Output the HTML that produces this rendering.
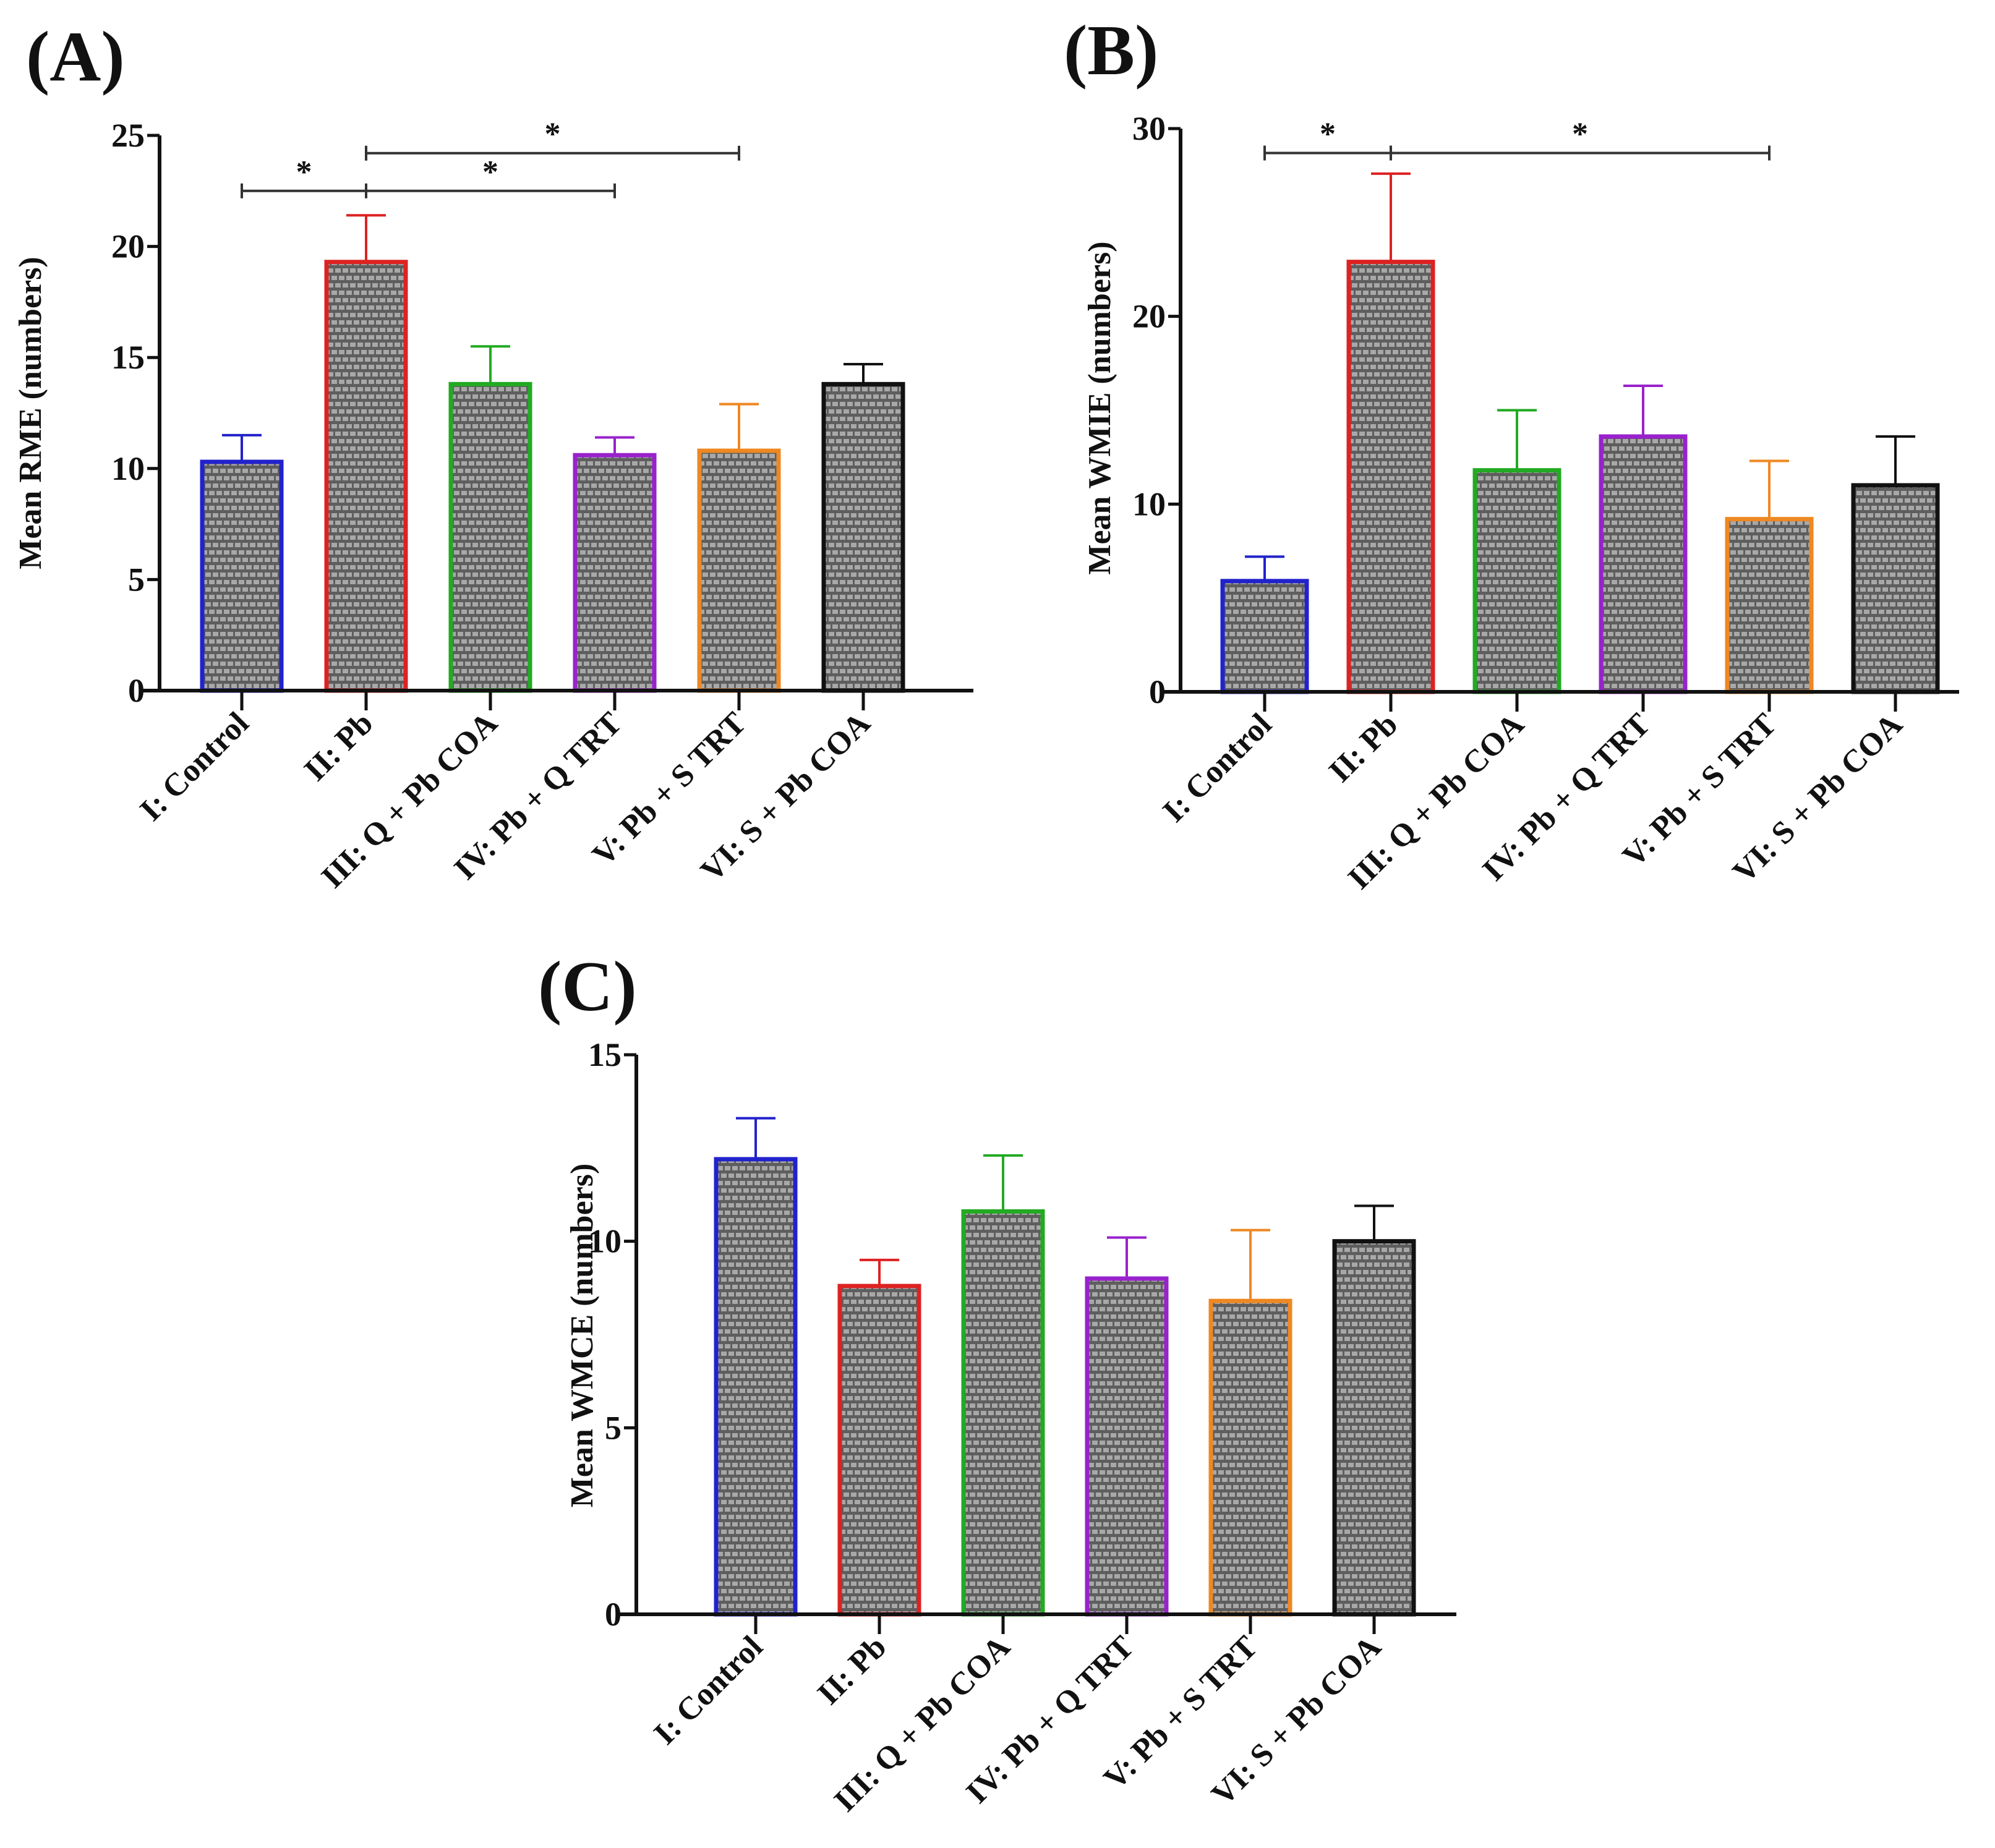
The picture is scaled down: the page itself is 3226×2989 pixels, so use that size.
<!DOCTYPE html>
<html><head><meta charset="utf-8"><style>
html,body{margin:0;padding:0;background:#fff}
svg{display:block}
text{font-family:"Liberation Serif",serif;font-weight:bold;fill:#111}
</style></head><body>
<svg id="fig" width="3226" height="2989" viewBox="0 0 3226 2989" xmlns="http://www.w3.org/2000/svg">
<defs>
<pattern id="brick" width="24" height="24" patternUnits="userSpaceOnUse">
<rect width="24" height="24" fill="#5e5e5e"/>
<rect x="2" y="2" width="9" height="7" fill="#a8a8a8"/>
<rect x="14" y="2" width="9" height="7" fill="#a8a8a8"/>
<rect x="8" y="14" width="9" height="7" fill="#a8a8a8"/>
<rect x="-4" y="14" width="9" height="7" fill="#a8a8a8"/>
<rect x="20" y="14" width="9" height="7" fill="#a8a8a8"/>
</pattern>
</defs>
<text x="42" y="130" font-size="115">(A)</text>
<text x="1720" y="120" font-size="115">(B)</text>
<text x="870" y="1634" font-size="115">(C)</text>
</svg>
<script>
const categories = ["I: Control","II: Pb","III: Q + Pb COA","IV: Pb + Q TRT","V: Pb + S TRT","VI: S + Pb COA"];
const colors = ["#2222cc","#dd2222","#22aa22","#9922cc","#ee8822","#111111"];
const valuesA = [10.3,19.3,13.8,10.6,10.8,13.8];
const errorsA = [11.5,21.4,15.5,11.4,12.9,14.7];
const ticksA = [0,5,10,15,20,25];
const valuesB = [5.9,22.9,11.8,13.6,9.2,11.0];
const errorsB = [7.2,27.6,15.0,16.3,12.3,13.6];
const ticksB = [0,10,20,30];
const valuesC = [12.2,8.8,10.8,9.0,8.4,10.0];
const errorsC = [13.3,9.5,12.3,10.1,10.3,10.95];
const ticksC = [0,5,10,15];
const sigA = [[0,3,22.5,[0.5,2]],[1,4,24.2,[2.5]]];
const sigB = [[0,4,28.7,[0.5,2.5]]];
const sigC = [];

const NS="http://www.w3.org/2000/svg";
const svg=document.getElementById('fig');
function mk(tag,attrs,parent){const e=document.createElementNS(NS,tag);for(const k in attrs)e.setAttribute(k,attrs[k]);(parent||svg).appendChild(e);return e;}

function panel(id,cfg,values,errors,ticks,sig){
  const g=mk('g',{});
  
  
  const ymax=ticks[ticks.length-1];
  const y=v=>cfg.y0-(v/ymax)*(cfg.y0-cfg.yTop);
  const x=i=>cfg.x1+i*cfg.step;
  values.forEach((v,i)=>{
    const b=mk('rect',{x:x(i)-cfg.bw/2,y:y(v),width:cfg.bw,height:cfg.y0-y(v),fill:'url(#brick)',stroke:colors[i],'stroke-width':7},g);
    
    
    const e=mk('path',{d:`M${x(i)},${y(v)}V${y(errors[i])}M${x(i)-32},${y(errors[i])}H${x(i)+32}`,stroke:colors[i],'stroke-width':4,fill:'none'},g);
    
    
  });
  const ax=mk('path',{d:`M${cfg.ax},${cfg.yTop}V${cfg.y0}M${cfg.ax-30},${cfg.y0}H${cfg.xEnd}`,stroke:'#111','stroke-width':6,fill:'none'},g);
  
  
  ticks.forEach(t=>{
    mk('path',{d:`M${cfg.ax-20},${y(t)}H${cfg.ax}`,stroke:'#111','stroke-width':5},g);
    const tl=mk('text',{x:cfg.ax-24,y:y(t)+18,'font-size':54,'text-anchor':'end'},g);
    tl.textContent=t;
    
    
  });
  categories.forEach((c,i)=>{
    mk('path',{d:`M${x(i)},${cfg.y0}V${cfg.y0+32}`,stroke:'#111','stroke-width':5},g);
    const tx=x(i)+14, ty=cfg.y0+56;
    const t=mk('text',{x:tx,y:ty,'font-size':52,'text-anchor':'end',transform:`rotate(-45 ${tx} ${ty})`},g);
    t.textContent=c;
    
    
  });
  const yt=mk('text',{x:cfg.titleX,y:cfg.titleY,'font-size':52,'text-anchor':'middle',transform:`rotate(-90 ${cfg.titleX} ${cfg.titleY})`},g);
  yt.textContent=cfg.title;
  
  
  sig.forEach(s=>{
    const yy=y(s[2]);
    const p=mk('path',{d:`M${x(s[0])},${yy}H${x(s[1])}M${x(s[0])},${yy-12}V${yy+12}M${x(s[1])},${yy-12}V${yy+12}M${x(1)},${yy-12}V${yy+12}`,stroke:'#333','stroke-width':4,fill:'none'},g);
    
    
    s[3].forEach(pos=>{
      const st=mk('text',{x:cfg.x1+pos*cfg.step,y:yy-14,'font-size':52,'text-anchor':'middle'},g);
      st.textContent='*';
      
      
    });
  });
}
panel('panel-a',{ax:258,yTop:219,y0:1117,x1:391,step:201,bw:128,xEnd:1574,title:'Mean RME (numbers)',titleX:66,titleY:668},valuesA,errorsA,ticksA,sigA);
panel('panel-b',{ax:1909,yTop:208,y0:1119,x1:2045,step:204,bw:136,xEnd:3168,title:'Mean WMIE (numbers)',titleX:1795,titleY:660},valuesB,errorsB,ticksB,sigB);
panel('panel-c',{ax:1029,yTop:1706,y0:2611,x1:1222,step:200,bw:128,xEnd:2355,title:'Mean WMCE (numbers)',titleX:958,titleY:2160},valuesC,errorsC,ticksC,sigC);
</script>
</body></html>
